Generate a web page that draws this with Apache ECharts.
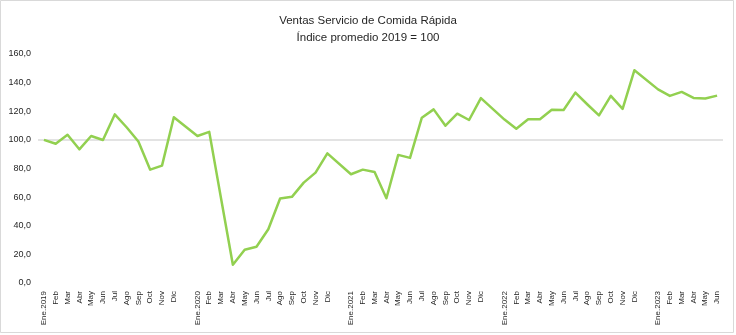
<!DOCTYPE html>
<html>
<head>
<meta charset="utf-8">
<script src="https://cdn.jsdelivr.net/npm/echarts@6/dist/echarts.min.js"></script>
<style>
  html, body { margin: 0; padding: 0; background: #fff; }
  #chart { width: 736px; height: 335px; }
</style>
</head>
<body>
<div id="chart"></div>
<script>
// Monthly index of fast-food sales (average 2019 = 100)
const monthNames = ['Ene', 'Feb', 'Mar', 'Abr', 'May', 'Jun', 'Jul', 'Ago', 'Sep', 'Oct', 'Nov', 'Dic'];
const years = ['2019', '2020', '2021', '2022', '2023'];

const values2019 = [100.0, 97.3, 103.6, 93.4, 102.7, 99.9, 117.8, 108.8, 98.9, 79.2, 82.0, 115.8];
const values2020 = [102.7, 105.6, 59.0, 12.7, 23.2, 25.3, 37.6, 59.0, 60.2, 70.1, 77.1, 90.6];
const values2021 = [76.0, 79.2, 77.5, 59.2, 89.5, 87.4, 115.5, 121.3, 109.9, 118.3, 113.9, 129.2];
const values2022 = [114.2, 107.8, 114.4, 114.4, 121.1, 120.9, 133.0, 124.9, 117.1, 130.7, 121.7, 148.7];
const values2023 = [135.3, 130.7, 133.5, 129.3, 128.9, 130.9];

const yTicks = { min: 0, max: 160, interval: 20 };
const baseLevel = 100;

// Build category list: each year starts with "Ene.<year>", an empty slot separates years
const yearValues = [values2019, values2020, values2021, values2022, values2023];
const categories = [];
const seriesData = [];
yearValues.forEach((vals, yi) => {
  if (yi > 0) { categories.push(''); seriesData.push(null); }
  vals.forEach((v, mi) => {
    categories.push(mi === 0 ? monthNames[mi] + '.' + years[yi] : monthNames[mi]);
    seriesData.push(v);
  });
});

const chart = echarts.init(document.getElementById('chart'), null, { renderer: 'canvas' });
chart.setOption({
  backgroundColor: '#ffffff',
  animation: false,
  textStyle: { fontFamily: 'Liberation Sans, Arial, sans-serif' },
  title: {
    text: 'Ventas Servicio de Comida Rápida\nÍndice promedio 2019 = 100',
    left: 'center',
    top: 7,
    textStyle: {
      fontFamily: 'Liberation Sans, Arial, sans-serif',
      fontSize: 11.5,
      fontWeight: 'normal',
      color: '#262626',
      lineHeight: 17
    }
  },
  graphic: [{
    type: 'rect',
    silent: true,
    shape: { x: 0.5, y: 0.5, width: 733, height: 332 },
    style: { fill: 'none', stroke: '#d9d9d9', lineWidth: 1 }
  }],
  grid: { left: 38, top: 54, width: 685, height: 229, containLabel: false },
  xAxis: {
    type: 'category',
    data: categories,
    boundaryGap: true,
    axisLine: { show: false },
    axisTick: { show: false },
    splitLine: { show: false },
    axisLabel: {
      interval: 0,
      rotate: 90,
      margin: 8,
      padding: [4, 0, 0, 0],
      fontSize: 8,
      color: '#262626',
      fontFamily: 'Liberation Sans, Arial, sans-serif'
    }
  },
  yAxis: {
    type: 'value',
    min: yTicks.min,
    max: yTicks.max,
    interval: yTicks.interval,
    axisLine: { show: false },
    axisTick: { show: false },
    splitLine: { show: false },
    axisLabel: {
      margin: 7,
      fontSize: 9,
      color: '#262626',
      fontFamily: 'Liberation Sans, Arial, sans-serif',
      formatter: v => v.toFixed(1).replace('.', ',')
    }
  },
  series: [{
    type: 'line',
    data: seriesData,
    connectNulls: true,
    showSymbol: false,
    symbol: 'none',
    lineStyle: { color: '#92D050', width: 2.5, join: 'round' },
    itemStyle: { color: '#92D050' },
    z: 3,
    markLine: {
      silent: true,
      symbol: 'none',
      label: { show: false },
      lineStyle: { color: '#e3e3e3', width: 2, type: 'solid' },
      data: [{ yAxis: baseLevel }],
      z: 1
    }
  }]
});
</script>
</body>
</html>
